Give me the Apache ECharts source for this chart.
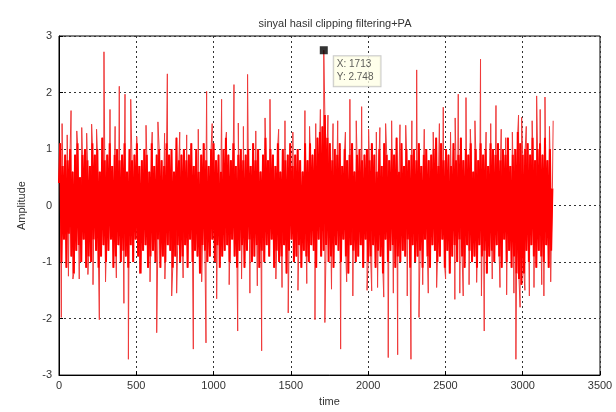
<!DOCTYPE html>
<html><head><meta charset="utf-8">
<script src="https://cdn.jsdelivr.net/npm/echarts@6/dist/echarts.min.js"></script>
<style>html,body{margin:0;padding:0;background:#fff}#c{width:616px;height:412px}</style>
</head><body><div id="c"></div>
<script>
// base samples, one every 8 time units (8 segments of 400 time units)
const sampleStep = 8;
const segA = [0.4,1.1,-1.0,0.7,-0.6,0.9,-1.1,0.8,-0.5,1.0,-0.9,0.6,-1.2,0.9,-0.8,1.1,-0.7,0.5,-1.0,0.9,-0.6,1.0,-1.1,0.8,-0.9,0.7,-1.0,1.1,-0.6,0.9,-0.8,1.0,-1.1,0.6,-0.9,1.2,-0.7,0.8,-1.0,0.9,-0.8,1.1,-0.6,0.7,-1.1,0.9,-0.9,1.0,-0.7,0.8];
const segB = [-1.0,0.9,-0.8,1.1,-0.9,0.6,-1.1,1.0,-0.7,0.8,-1.0,0.9,-0.6,1.1,-0.9,0.7,-1.2,0.8,-0.8,1.0,-0.7,0.9,-1.1,0.6,-0.9,1.1,-0.8,0.7,-1.0,0.9,-0.6,1.0,-1.1,0.8,-0.9,0.7,-1.0,1.1,-0.7,0.9,-0.8,1.0,-1.1,0.6,-0.9,1.2,-0.7,0.8,-1.0,0.9];
const segC = [-0.9,1.0,-0.7,0.8,-1.1,0.9,-0.6,1.1,-1.0,0.7,-0.8,1.0,-0.9,0.6,-1.2,0.9,-0.7,1.1,-0.8,0.8,-1.0,0.7,-0.9,1.0,-0.6,1.1,-1.0,0.8,-0.7,0.9,-1.1,0.6,-0.9,1.0,-0.8,1.2,-0.7,0.9,-1.0,0.8,-0.6,1.1,-0.9,0.7,-1.1,0.9,-0.8,1.0,-0.7,0.8];
const segD = [-1.1,0.9,-0.8,1.0,-0.6,0.7,-1.0,1.1,-0.9,0.8,-0.7,1.0,-1.1,0.6,-0.8,0.9,-1.0,1.2,-0.7,0.8,-0.9,1.0,-0.6,0.9,-1.1,0.7,-0.8,1.1,-1.0,0.6,-0.9,1.0,-0.7,0.8,-1.2,0.9,-0.8,1.1,-0.6,0.7,-1.0,0.9,-0.9,1.0,-0.7,0.8,-1.1,0.6,-0.8,1.1];
const segE = [-0.9,0.8,-1.0,1.1,-0.7,0.9,-0.8,1.0,-1.1,1.2,-0.6,1.3,-0.9,1.4,-0.8,1.6,-0.7,1.2,-1.0,1.1,-0.9,0.8,-1.1,1.0,-0.7,0.9,-0.8,1.1,-1.0,0.7,-0.6,1.0,-0.9,0.8,-1.2,0.9,-0.7,1.1,-0.8,0.6,-1.0,0.9,-0.9,1.0,-0.7,0.8,-1.1,0.9,-0.6,1.0];
const segF = [-1.0,0.8,-0.9,1.1,-0.7,0.9,-1.1,0.6,-0.8,1.0,-0.9,0.7,-1.2,1.1,-0.6,0.9,-1.0,0.8,-0.8,1.0,-0.7,0.9,-1.1,1.2,-0.9,0.6,-1.0,1.1,-0.8,0.7,-0.9,1.0,-0.6,0.8,-1.1,0.9,-0.7,1.0,-1.0,0.8,-0.9,1.1,-0.8,0.7,-1.1,0.9,-0.6,1.0,-0.9,0.8];
const segG = [-1.1,0.9,-0.7,1.0,-0.8,1.2,-1.0,0.7,-0.9,1.1,-0.6,0.8,-1.1,1.0,-0.8,0.9,-1.2,0.7,-0.9,1.1,-0.7,0.8,-1.0,0.9,-0.6,1.2,-0.9,0.8,-1.1,1.0,-0.7,0.9,-0.8,1.1,-1.0,0.6,-0.9,1.0,-1.1,0.8,-0.7,1.1,-0.9,0.9,-0.8,1.0,-1.2,0.7,-0.9,1.1];
const segH = [-0.8,1.0,-1.0,0.9,-0.7,1.1,-0.9,0.8,-1.1,1.0,-0.6,0.9,-1.0,1.2,-0.8,0.7,-1.1,0.9,-0.9,1.0,-1.2,1.3,-1.3,1.1,-1.4,0.9,-1.2,1.0,-0.8,1.1,-1.0,0.9,-0.7,1.2,-0.9,0.8,-1.1,1.0,-0.8,1.1,-0.9,0.9,-1.0,1.2,-0.7,0.8,-1.1,1.0,-0.8,0.3];
// isolated tall spikes
const spikeTimes  = [15,20,78,90,147,211,220,261,291,330,390,420,427,449,464,632,640,701,729,761,826,869,951,955,1020,1052,1132,1156,1160,1220,1235,1311,1365,1462,1483,1546,1591,1656,1713,1720,1740,1822,1882,1958,2023,2076,2130,2152,2191,2206,2277,2314,2329,2389,2486,2561,2583,2615,2633,2691,2702,2727,2751,2827,2890,2896,2956,2993,3014,3090,3137,3144,3197];
const spikeValues = [-1.98,1.45,1.68,-1.3,1.38,1.44,-1.40,-2.02,2.72,1.70,2.11,-1.73,1.97,-2.72,1.88,-2.25,1.48,2.33,-1.6,-1.55,1.25,-2.54,-2.43,2.02,-1.65,1.88,2.14,-2.22,1.46,2.32,-1.55,-2.57,1.88,1.5,-1.9,-1.5,1.68,-2.02,2.748,-2.07,1.6,-2.54,1.88,1.75,-1.51,1.38,-2.69,1.5,-2.64,1.43,-2.72,2.40,-1.98,-1.55,1.74,-1.66,1.97,-1.6,1.91,1.5,-1.36,2.59,-2.22,1.77,1.2,-1.58,-2.72,1.56,-1.5,1.94,-1.6,1.92,1.5];
// moderate spikes forming the ragged fringe
const fringeTimes  = [53,61,115,131,179,187,243,301,363,371,503,523,563,589,603,683,685,781,803,901,923,991,1083,1101,1181,1193,1273,1283,1333,1403,1421,1443,1513,1603,1621,1661,1691,1763,1773,1803,1853,1861,1901,1923,1993,2003,2053,2061,2101,2113,2163,2243,2253,2283,2353,2363,2421,2443,2461,2501,2533,2563,2593,2653,2661,2733,2763,2793,2803,2853,2861,2933,2943,2973,2983,3023,3043,3061,3073,3113,3123,3173,3181];
const fringeValues = [1.25,-1.25,1.32,-1.3,1.28,-1.22,1.35,-1.35,1.4,-1.28,1.22,-1.2,1.42,-1.35,1.3,1.28,-1.3,1.3,-1.28,1.35,-1.35,1.45,1.3,-1.4,-1.3,1.4,1.32,-1.42,1.55,-1.3,1.35,-1.45,1.3,-1.38,1.4,1.45,1.7,-1.48,1.45,1.5,1.3,-1.35,-1.6,1.5,-1.5,1.35,1.3,-1.45,-1.62,1.45,-1.55,1.42,-1.6,1.5,-1.4,1.35,1.3,-1.45,1.45,-1.3,1.3,1.55,-1.55,-1.4,1.35,-1.6,1.3,1.45,-1.3,-1.45,1.35,1.3,-1.55,1.6,-1.8,1.4,-1.6,1.5,-1.45,1.7,-1.4,1.4,-1.35];
const tip = {x: 1713, y: 2.748};

const base = [].concat(segA,segB,segC,segD,segE,segF,segG,segH);
const basePts = base.map((v,i)=>[i*sampleStep, v]);
const pts = basePts.slice();
spikeTimes.forEach((t,i)=>pts.push([t, spikeValues[i]]));
fringeTimes.forEach((t,i)=>pts.push([t, fringeValues[i]]));
pts.sort((a,b)=>a[0]-b[0]);

const FONT = 'Liberation Sans, Arial, sans-serif';
const chart = echarts.init(document.getElementById('c'), null, {renderer:'canvas'});
const axisCommon = {
  axisLine:{show:true, onZero:false, lineStyle:{color:'#000', width:1}},
  axisTick:{show:true, inside:true, length:4, lineStyle:{color:'#000'}},
  splitLine:{show:true, lineStyle:{color:'#333', type:[2,3], width:1}}
};
chart.setOption({
  animation:false,
  title:{text:'sinyal hasil clipping filtering+PA', left:330, top:13, textAlign:'center',
    textStyle:{fontSize:11, fontWeight:'normal', color:'#333', fontFamily:FONT}},
  grid:{left:59, right:16, top:36, bottom:32, show:true, borderColor:'#000', borderWidth:1, backgroundColor:'#fff'},
  xAxis:Object.assign({type:'value', min:0, max:3500, interval:500, name:'time', nameLocation:'middle', nameGap:17,
    nameTextStyle:{color:'#333', fontSize:11, fontFamily:FONT},
    axisLabel:{color:'#333', fontSize:11, fontFamily:FONT, margin:5, formatter:v=>String(v)}}, axisCommon),
  yAxis:Object.assign({type:'value', min:-3, max:3, interval:1, name:'Amplitude', nameLocation:'middle', nameGap:32,
    nameTextStyle:{color:'#333', fontSize:11, fontFamily:FONT},
    axisLabel:{color:'#333', fontSize:11, fontFamily:FONT, margin:7, formatter:v=>String(v)}}, axisCommon),
  series:[
    {type:'line', data:pts, showSymbol:false, symbol:'none', lineStyle:{color:'#f03a3a', width:1}, z:2},
    {type:'line', data:basePts, showSymbol:false, symbol:'none', lineStyle:{color:'#ff0000', width:2}, z:3},
    {type:'scatter', data:[[tip.x, tip.y]], symbol:'rect', symbolSize:8, itemStyle:{color:'#000'}, z:5,
      label:{show:true, position:[14,10], formatter:'X: '+tip.x+'\nY: '+tip.y, color:'#333', fontSize:10,
        lineHeight:13, backgroundColor:'#ffffe6', borderColor:'#bbb', borderWidth:1, padding:[2,7,2,3],
        fontFamily:FONT}}
  ]
});
</script></body></html>
